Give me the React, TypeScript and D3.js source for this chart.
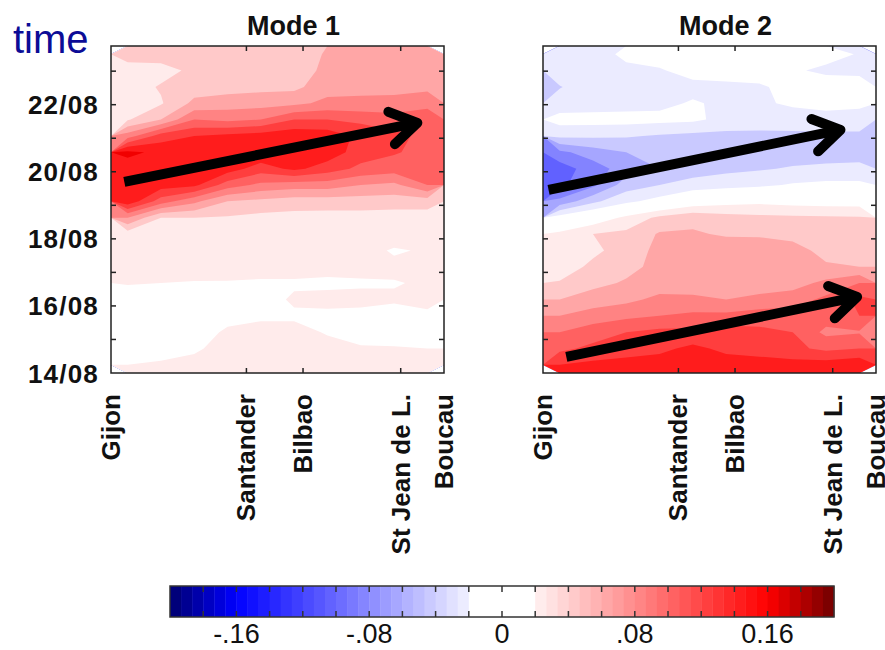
import * as d3 from "d3";

// ---------------------------------------------------------------------------
// DATA
// ---------------------------------------------------------------------------
const stations = ["Gijon", "Santander", "Bilbao", "St Jean de L.", "Boucau"];
const stationKm = [0, 122, 173, 261, 300]; // distance along the coast
const tickStations = [1, 2, 3]; // stations that get a tick on top/bottom

const dayTicks = [0, 2, 4, 6, 8]; // days after 14/08
const dayLabels = ["14/08", "16/08", "18/08", "20/08", "22/08"];
const minorDays = [1, 2, 3, 4, 5, 6, 7, 8, 9];

const cbTicks = [-0.16, -0.08, 0, 0.08, 0.16];
const cbLabels = ["-.16", "-.08", "0", ".08", "0.16"];

const titles = ["Mode 1", "Mode 2"];

// gridded amplitude, 10 stations-columns x 20 time-rows, top row = latest time
const mode1 = [
  [0.05, 0.05, 0.05, 0.05, 0.05, 0.05, 0.062, 0.07, 0.072, 0.072],
  [0.03, 0.032, 0.045, 0.05, 0.05, 0.05, 0.065, 0.07, 0.072, 0.072],
  [0.03, 0.042, 0.05, 0.052, 0.054, 0.055, 0.072, 0.074, 0.075, 0.074],
  [0.032, 0.038, 0.065, 0.07, 0.072, 0.075, 0.085, 0.085, 0.085, 0.095],
  [0.038, 0.06, 0.1, 0.095, 0.1, 0.12, 0.12, 0.115, 0.11, 0.11],
  [0.09, 0.13, 0.14, 0.145, 0.15, 0.155, 0.152, 0.135, 0.125, 0.115],
  [0.165, 0.155, 0.155, 0.155, 0.158, 0.158, 0.152, 0.13, 0.122, 0.113],
  [0.15, 0.155, 0.155, 0.15, 0.13, 0.145, 0.13, 0.115, 0.11, 0.108],
  [0.152, 0.15, 0.145, 0.11, 0.095, 0.09, 0.09, 0.08, 0.075, 0.1],
  [0.155, 0.11, 0.085, 0.06, 0.055, 0.05, 0.05, 0.05, 0.05, 0.05],
  [0.08, 0.04, 0.04, 0.038, 0.034, 0.033, 0.032, 0.032, 0.03, 0.03],
  [0.03, 0.03, 0.032, 0.032, 0.032, 0.032, 0.031, 0.03, 0.03, 0.028],
  [0.03, 0.03, 0.03, 0.03, 0.03, 0.03, 0.028, 0.027, 0.018, 0.022],
  [0.028, 0.028, 0.027, 0.026, 0.026, 0.026, 0.025, 0.025, 0.024, 0.024],
  [0.021, 0.02, 0.019, 0.019, 0.018, 0.018, 0.017, 0.018, 0.019, 0.022],
  [0.012, 0.01, 0.01, 0.012, 0.014, 0.022, 0.024, 0.024, 0.022, 0.026],
  [0.01, 0.008, 0.01, 0.016, 0.018, 0.018, 0.017, 0.016, 0.014, 0.016],
  [0.01, 0.01, 0.014, 0.022, 0.024, 0.024, 0.019, 0.016, 0.014, 0.014],
  [0.012, 0.014, 0.018, 0.025, 0.026, 0.025, 0.024, 0.021, 0.021, 0.02],
  [0.02, 0.022, 0.024, 0.025, 0.024, 0.024, 0.024, 0.024, 0.024, 0.025],
];

const mode2 = [
  [-0.03, -0.03, -0.015, -0.01, -0.01, -0.01, -0.01, -0.012, -0.015, -0.021],
  [-0.03, -0.03, -0.025, -0.022, -0.012, -0.01, -0.012, -0.018, -0.023, -0.024],
  [-0.041, -0.03, -0.028, -0.027, -0.026, -0.025, -0.022, -0.015, -0.012, -0.012],
  [-0.032, -0.03, -0.028, -0.025, -0.018, -0.024, -0.022, -0.018, -0.015, -0.017],
  [-0.012, -0.012, -0.012, -0.014, -0.016, -0.026, -0.026, -0.026, -0.026, -0.026],
  [-0.035, -0.036, -0.038, -0.042, -0.045, -0.046, -0.047, -0.046, -0.045, -0.045],
  [-0.085, -0.07, -0.06, -0.052, -0.05, -0.05, -0.05, -0.05, -0.049, -0.048],
  [-0.11, -0.09, -0.07, -0.06, -0.05, -0.045, -0.042, -0.038, -0.036, -0.035],
  [-0.105, -0.085, -0.05, -0.04, -0.032, -0.028, -0.024, -0.018, -0.015, -0.015],
  [-0.075, -0.045, -0.025, -0.012, 0.005, 0.012, 0.015, 0.012, 0.01, 0.01],
  [-0.01, 0.005, 0.025, 0.045, 0.055, 0.048, 0.045, 0.044, 0.043, 0.042],
  [0.025, 0.04, 0.045, 0.062, 0.062, 0.058, 0.058, 0.055, 0.05, 0.045],
  [0.025, 0.035, 0.05, 0.065, 0.068, 0.07, 0.068, 0.066, 0.055, 0.05],
  [0.028, 0.045, 0.055, 0.065, 0.068, 0.07, 0.068, 0.065, 0.062, 0.06],
  [0.042, 0.055, 0.062, 0.07, 0.075, 0.07, 0.07, 0.072, 0.085, 0.1],
  [0.06, 0.068, 0.075, 0.085, 0.082, 0.08, 0.085, 0.09, 0.105, 0.125],
  [0.08, 0.09, 0.095, 0.1, 0.105, 0.105, 0.11, 0.11, 0.11, 0.12],
  [0.1, 0.11, 0.12, 0.125, 0.125, 0.13, 0.125, 0.12, 0.095, 0.098],
  [0.115, 0.125, 0.13, 0.135, 0.145, 0.135, 0.13, 0.125, 0.115, 0.12],
  [0.14, 0.145, 0.148, 0.15, 0.155, 0.15, 0.15, 0.148, 0.15, 0.155],
];

// propagation arrows: start / end in (km, day)
const arrows1 = [{ km0: 12, d0: 5.7, km1: 276, d1: 7.46 }];
const arrows2 = [
  { km0: 5, d0: 5.46, km1: 268, d1: 7.25 },
  { km0: 21, d0: 0.48, km1: 283, d1: 2.27 },
];

// ---------------------------------------------------------------------------
// LAYOUT
// ---------------------------------------------------------------------------
const W = 885;
const H = 650;
const panelLefts = [111, 543];
const panelW = 333;
const panelTop = 46;
const panelBottom = 373;
const kmMax = 300;
const dayMax = 9.75;
const NX = 10;
const NY = 20;
const FONT = "'Liberation Sans', Arial, Helvetica, sans-serif";
const INK = "#111";

const cbLeft = 170;
const cbRight = 834;
const cbTop = 586;
const cbBottom = 617;

// ---------------------------------------------------------------------------
// COLOURS — blue / white / red with a white band between -0.02 and 0.02
// ---------------------------------------------------------------------------
const blue = d3.scaleLinear<string>()
  .domain([-0.2, -0.16, -0.02])
  .range(["#00006e", "#0000ff", "#f2f2ff"])
  .clamp(true);
const red = d3.scaleLinear<string>()
  .domain([0.02, 0.16, 0.2])
  .range(["#fff2f2", "#ff0000", "#700000"])
  .clamp(true);

function cmap(v: number) {
  if (v <= -0.02) return blue(v);
  if (v >= 0.02) return red(v);
  return "#ffffff";
}

// colour of the filled band [t, t + 0.02)
function bandColor(t: number) {
  const hi = t + 0.02;
  if (t >= 0.0199) return cmap(t + 0.004);
  if (hi <= -0.0199) return cmap(hi - 0.004);
  return "#ffffff";
}

const thresholds = d3.range(-10, 10).map(i => i * 0.02);

function Panel({ grid, left, title, arrows, showY }: any) {
  const x = d3.scaleLinear().domain([0, kmMax]).range([left, left + panelW]);
  const y = d3.scaleLinear().domain([0, dayMax]).range([panelBottom, panelTop]);
  const gx = d3.scaleLinear().domain([0, NX]).range([0, kmMax]);
  const gy = d3.scaleLinear().domain([0, NY]).range([dayMax, 0]);

  const proj = d3.geoTransform({
    point(px: number, py: number) {
      (this as any).stream.point(x(gx(px)), y(gy(py)));
    },
  });
  const path = d3.geoPath(proj);
  const bands = d3.contours().size([NX, NY]).thresholds(thresholds)(grid.flat());

  const tickLen = 5;

  return (
    <g>
      <text x={(left + panelW / 2) + 16} y={35} textAnchor="middle"
        fontSize={27} fontWeight={700} fontFamily={FONT} fill={INK}>
        {title}
      </text>

      {bands.map((b, i) => (
        <path key={i} d={path(b as any) || ""} fill={bandColor(b.value)} />
      ))}

      {/* arrows */}
      {arrows.map((a: any, i: number) => {
        const x0 = x(a.km0), y0 = y(a.d0), x1 = x(a.km1), y1 = y(a.d1);
        const ang = Math.atan2(y0 - y1, x0 - x1);
        const L = 31;
        const sp = Math.PI / 5.6;
        const h1 = [x1 + L * Math.cos(ang + sp), y1 + L * Math.sin(ang + sp)];
        const h2 = [x1 + L * Math.cos(ang - sp), y1 + L * Math.sin(ang - sp)];
        const xe = x1 + 4 * Math.cos(ang), ye = y1 + 4 * Math.sin(ang);
        return (
          <g key={i} stroke="#000" fill="none" strokeWidth={10}>
            <line x1={x0} y1={y0} x2={xe} y2={ye} />
            <polyline points={`${h1[0]},${h1[1]} ${x1},${y1} ${h2[0]},${h2[1]}`}
              strokeLinecap="round" strokeLinejoin="round" />
          </g>
        );
      })}

      {/* frame */}
      <rect x={left} y={panelTop} width={panelW} height={panelBottom - panelTop}
        fill="none" stroke="#222" strokeWidth={1.5} />

      {/* day ticks, left and right, pointing inward */}
      {minorDays.map(d => (
        <g key={d} stroke="#222" strokeWidth={1.5}>
          <line x1={left} x2={left + tickLen} y1={y(d)} y2={y(d)} />
          <line x1={left + panelW} x2={left + panelW - tickLen} y1={y(d)} y2={y(d)} />
        </g>
      ))}

      {/* station ticks, top and bottom */}
      {tickStations.map(s => (
        <g key={s} stroke="#222" strokeWidth={1.5}>
          <line x1={x(stationKm[s])} x2={x(stationKm[s])} y1={panelTop} y2={panelTop + tickLen} />
          <line x1={x(stationKm[s])} x2={x(stationKm[s])} y1={panelBottom} y2={panelBottom - tickLen} />
        </g>
      ))}

      {/* station labels, rotated */}
      {stations.map((s, i) => (
        <text key={s}
          transform={`translate(${x(stationKm[i]) + 9},394) rotate(-90)`}
          textAnchor="end" fontSize={26} fontWeight={700}
          fontFamily={FONT} fill={INK}>
          {s}
        </text>
      ))}

      {showY && dayTicks.map((d, i) => (
        <text key={d} x={99} y={y(d) + 9.5} textAnchor="end"
          fontSize={26} fontWeight={700} letterSpacing={1.2}
          fontFamily={FONT} fill={INK}>
          {dayLabels[i]}
        </text>
      ))}
    </g>
  );
}

function ColorBar() {
  const cb = d3.scaleLinear().domain([-0.2, 0.2]).range([cbLeft, cbRight]);
  const n = 60;
  const step = 0.4 / n;
  const cells = d3.range(n).map(i => -0.2 + i * step);
  const inner = d3.range(1, 20).map(i => -0.2 + i * 0.02);
  return (
    <g>
      {cells.map((v, i) => (
        <rect key={i} x={cb(v)} y={cbTop} width={cb(v + step) - cb(v) + 0.4}
          height={cbBottom - cbTop} fill={cmap(v + step / 2)} />
      ))}
      <rect x={cbLeft} y={cbTop} width={cbRight - cbLeft} height={cbBottom - cbTop}
        fill="none" stroke="#333" strokeWidth={1.5} />
      {inner.map((v, i) => (
        <g key={i} stroke="#333" strokeWidth={1.5}>
          <line x1={cb(v)} x2={cb(v)} y1={cbTop} y2={cbTop + 6} />
          <line x1={cb(v)} x2={cb(v)} y1={cbBottom} y2={cbBottom - 6} />
        </g>
      ))}
      {cbTicks.map((v, i) => (
        <text key={v} x={cb(v)} y={643} textAnchor="middle"
          fontSize={27} fontFamily={FONT} fill={INK}>
          {cbLabels[i]}
        </text>
      ))}
    </g>
  );
}

export default function App() {
  return (
    <svg width={W} height={H} viewBox={`0 0 ${W} ${H}`}
      style={{ position: "absolute", left: 0, top: 0, background: "#fff" }}>
      <rect width={W} height={H} fill="#fff" />
      <text x={13} y={53} fontSize={40} fontFamily={FONT} fill="#0c0c96">time</text>
      <Panel grid={mode1} left={panelLefts[0]} title={titles[0]} arrows={arrows1} showY />
      <Panel grid={mode2} left={panelLefts[1]} title={titles[1]} arrows={arrows2} showY={false} />
      <ColorBar />
    </svg>
  );
}
